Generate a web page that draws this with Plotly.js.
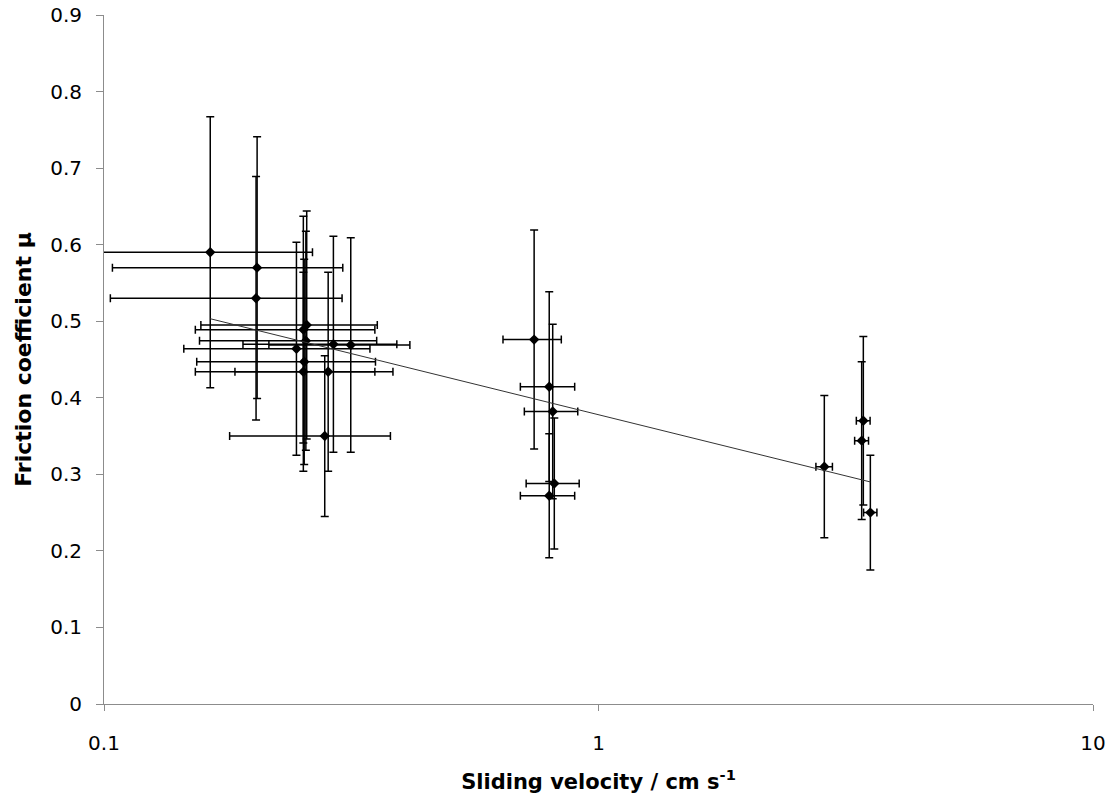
<!DOCTYPE html>
<html>
<head>
<meta charset="utf-8">
<script src="https://cdn.plot.ly/plotly-3.0.1.min.js"></script>
<style>
  html, body { margin: 0; padding: 0; background: #fff; }
  #chart { width: 1116px; height: 805px; }
</style>
</head>
<body>
<div id="chart"></div>
<script>
// Sliding velocity (cm/s)
const velocity = [0.164, 0.204, 0.203, 0.257, 0.253, 0.256, 0.291, 0.3155, 0.245, 0.254, 0.253, 0.284, 0.2795,
                  0.741, 0.795, 0.808, 0.814, 0.795,
                  2.862, 3.432, 3.406, 3.546];
// Friction coefficient
const friction = [0.590, 0.570, 0.530, 0.495, 0.489, 0.4745, 0.470, 0.469, 0.464, 0.447, 0.434, 0.434, 0.350,
                  0.476, 0.4145, 0.382, 0.288, 0.272,
                  0.310, 0.370, 0.344, 0.250];
// Error in velocity
const velocityErr = [0.10, 0.10, 0.10, 0.10, 0.10, 0.10, 0.10, 0.10, 0.10, 0.10, 0.10, 0.10, 0.10,
                     0.10, 0.10, 0.10, 0.10, 0.10,
                     0.11, 0.11, 0.11, 0.11];
// Error in friction coefficient
const frictionErr = [0.177, 0.171, 0.159, 0.149, 0.148, 0.143, 0.141, 0.140, 0.139, 0.134, 0.130, 0.130, 0.105,
                     0.143, 0.124, 0.114, 0.0855, 0.081,
                     0.093, 0.110, 0.103, 0.075];
const xTickVals = [0.1, 1, 10];
const xTickText = ['0.1', '1', '10'];

// Logarithmic least-squares trendline (mu = a + b ln v)
const lnV = velocity.map(v => Math.log(v));
const n = lnV.length;
const mx = lnV.reduce((s, v) => s + v, 0) / n;
const my = friction.reduce((s, v) => s + v, 0) / n;
let sxy = 0, sxx = 0;
for (let i = 0; i < n; i++) { sxy += (lnV[i] - mx) * (friction[i] - my); sxx += (lnV[i] - mx) ** 2; }
const b = sxy / sxx;
const a = my - b * mx;
const vMin = Math.min(...velocity), vMax = Math.max(...velocity);
const trendX = [vMin, vMax];
const trendY = trendX.map(v => a + b * Math.log(v));

const FONT = '"DejaVu Sans", "Open Sans", sans-serif';
const AXC = '#8c8c8c';

const data = [
  {
    type: 'scatter', mode: 'markers',
    x: velocity, y: friction,
    marker: { symbol: 'diamond', size: 8, color: '#000' },
    error_y: { type: 'data', array: frictionErr, visible: true, color: '#000', thickness: 1.5, width: 4 },
    error_x: { type: 'data', array: velocityErr, visible: true, color: '#000', thickness: 1.5, width: 4 },
    showlegend: false, hoverinfo: 'x+y'
  },
  {
    type: 'scatter', mode: 'lines',
    x: trendX, y: trendY,
    line: { color: '#333', width: 1 },
    showlegend: false, hoverinfo: 'skip'
  }
];

const layout = {
  width: 1116, height: 805,
  margin: { l: 104, r: 23, t: 15, b: 101 },
  paper_bgcolor: '#fff', plot_bgcolor: '#fff',
  font: { family: FONT, size: 20, color: '#000' },
  showlegend: false,
  xaxis: {
    type: 'log', range: [-1, 1],
    tickvals: xTickVals, ticktext: xTickText,
    ticks: 'outside', ticklen: 6, tickwidth: 1, tickcolor: AXC,
    showline: true, linecolor: AXC, linewidth: 1,
    showgrid: false, zeroline: false,
    tickfont: { family: FONT, size: 20, color: '#000' },
    ticklabelstandoff: 15,
    title: { text: 'Sliding velocity / cm s<sup>-1</sup>', font: { family: FONT, size: 21, color: '#000', weight: 'bold' }, standoff: 20 }
  },
  yaxis: {
    range: [0, 0.9], dtick: 0.1, tick0: 0,
    ticks: 'outside', ticklen: 7, tickwidth: 1, tickcolor: AXC,
    showline: true, linecolor: AXC, linewidth: 1,
    showgrid: false, zeroline: false,
    tickfont: { family: FONT, size: 20, color: '#000' },
    ticklabelstandoff: 10,
    title: { text: 'Friction coefficient μ', font: { family: FONT, size: 22, color: '#000', weight: 'bold' }, standoff: 12 }
  }
};

Plotly.newPlot('chart', data, layout, { displayModeBar: false, staticPlot: true });
</script>
</body>
</html>
